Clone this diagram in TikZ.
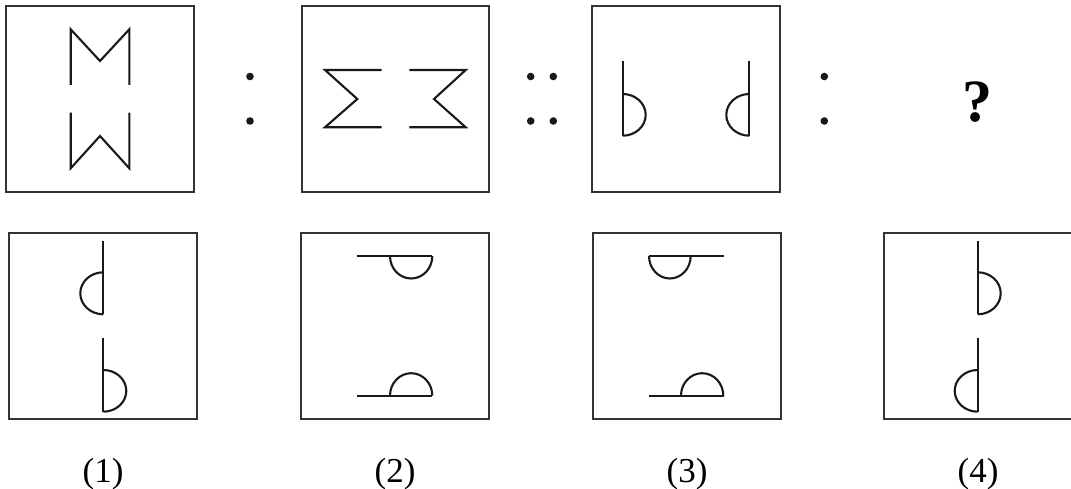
\documentclass[tikz,border=0pt]{standalone}
\usepackage{fontspec}
\setmainfont{Liberation Serif}
\begin{document}
\begin{tikzpicture}[x=1pt,y=-1pt,
  box/.style={draw=black!80,line width=1.1pt,minimum width=188pt,minimum height=186pt,inner sep=0pt},
  fig/.style={draw=black!90,line width=2.1pt,line join=miter},
  dotmark/.style={fill=black!90},
  lab/.style={font=\fontsize{35}{40}\selectfont,anchor=base,inner sep=0pt}]
\useasboundingbox (0,0) rectangle (1071,489);
\clip (0,0) rectangle (1071,489);
% top row boxes
\node[box] (t1) at (100,99) {};
\node[box,minimum width=187pt] (t2) at (395.5,99) {};
\node[box] (t3) at (686,99) {};
% bottom row boxes
\node[box] (b1) at (103,326) {};
\node[box] (b2) at (395,326) {};
\node[box] (b3) at (687,326) {};
\node[box] (b4) at (978,326) {};
% box t1: M and W
\draw[fig] (70.7,85) -- (70.7,29.3) -- (100,61) -- (129.3,29.3) -- (129.3,85);
\draw[fig] (70.7,112.7) -- (70.7,168.3) -- (100,136) -- (129.3,168.3) -- (129.3,112.7);
% colon
\fill[dotmark] (250,76.5) circle (3.8);
\fill[dotmark] (250,121) circle (3.8);
% box t2: sigma and reversed sigma
\draw[fig] (381.7,70) -- (325,70) -- (357.3,99) -- (325,127.3) -- (381.7,127.3);
\draw[fig] (409.3,70) -- (465.7,70) -- (434,99) -- (465.7,127.3) -- (409.3,127.3);
% double colon
\fill[dotmark] (530.7,76.5) circle (3.8);
\fill[dotmark] (553.3,76.5) circle (3.8);
\fill[dotmark] (530.7,121) circle (3.8);
\fill[dotmark] (553.3,121) circle (3.8);
% box t3: b and d
\draw[fig] (622.7,61.3) -- (622.7,135.7);
\draw[fig] (622.7,94) arc[start angle=-90,end angle=90,x radius=23,y radius=20.85];
\draw[fig] (749.3,61.3) -- (749.3,135.7);
\draw[fig] (749.3,94) arc[start angle=-90,end angle=-270,x radius=23,y radius=20.85];
% colon
\fill[dotmark] (824.3,76.5) circle (3.8);
\fill[dotmark] (824.3,121) circle (3.8);
% question mark
\node[font=\fontsize{60}{66}\selectfont\bfseries,anchor=base,inner sep=0pt] (q) at (977,122) {?};
% box b1
\draw[fig] (103.3,240.7) -- (103.3,314.3);
\draw[fig] (103.3,272.3) arc[start angle=-90,end angle=-270,x radius=23,y radius=21];
\draw[fig] (103.3,337.7) -- (103.3,411.7);
\draw[fig] (103.3,370) arc[start angle=-90,end angle=90,x radius=23,y radius=20.85];
% box b2
\draw[fig] (356.7,256) -- (432.3,256);
\draw[fig] (390,256) arc[start angle=180,end angle=0,x radius=21.15,y radius=22.5];
\draw[fig] (356.7,395.7) -- (432.3,395.7);
\draw[fig] (390,395.7) arc[start angle=180,end angle=360,x radius=21.15,y radius=22.5];
% box b3
\draw[fig] (649,256) -- (724,256);
\draw[fig] (649,256) arc[start angle=180,end angle=0,x radius=20.85,y radius=22.5];
\draw[fig] (649,395.7) -- (724,395.7);
\draw[fig] (681,395.7) arc[start angle=180,end angle=360,x radius=21.15,y radius=22.5];
% box b4
\draw[fig] (977.7,240.7) -- (977.7,314.3);
\draw[fig] (977.7,272.3) arc[start angle=-90,end angle=90,x radius=23,y radius=21];
\draw[fig] (977.7,337.7) -- (977.7,411.7);
\draw[fig] (977.7,370) arc[start angle=-90,end angle=-270,x radius=23,y radius=20.85];
% labels
\node[lab] (l1) at (103,482) {(1)};
\node[lab] (l2) at (395,482) {(2)};
\node[lab] (l3) at (687,482) {(3)};
\node[lab] (l4) at (978,482) {(4)};
\end{tikzpicture}
\end{document}
